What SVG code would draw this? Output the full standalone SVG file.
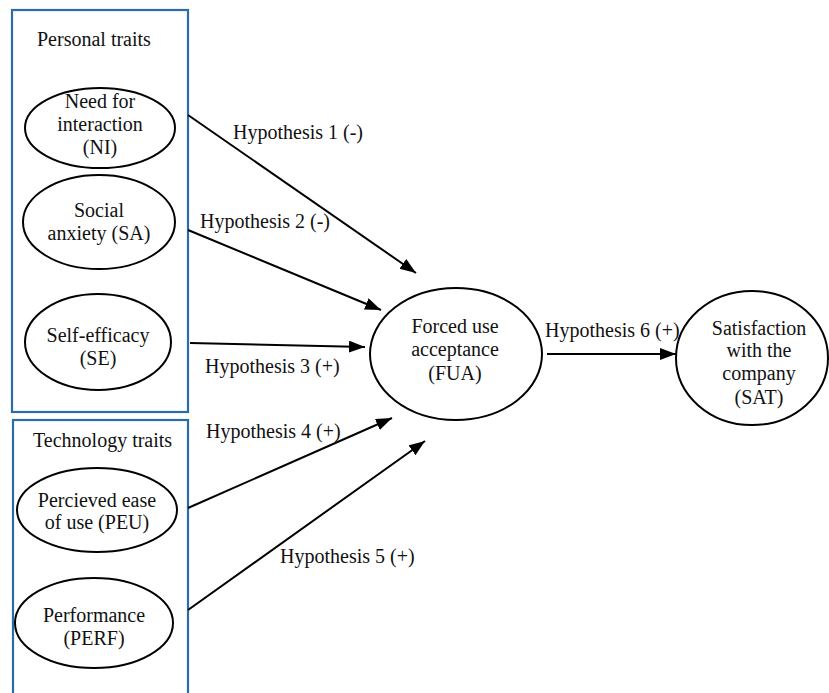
<svg xmlns="http://www.w3.org/2000/svg" width="829" height="693" viewBox="0 0 829 693">
<style>
text{font-family:'Liberation Serif','Times New Roman',serif;font-size:20px;fill:#111}
text.ctr{text-anchor:middle}
.box{fill:none;stroke:#2E6CA8;stroke-width:2.2}
.el{fill:#fff;stroke:#000;stroke-width:2}
.ln{stroke:#000;stroke-width:2;fill:none;marker-end:url(#ah)}
</style>
<defs>
<marker id="ah" markerUnits="userSpaceOnUse" markerWidth="18" markerHeight="14" refX="16" refY="6" orient="auto">
<path d="M0,0 L16,6 L0,12 Z" fill="#000"/>
</marker>
</defs>
<rect width="829" height="693" fill="#fff"/>
<g id="personal-traits">
<rect class="box" x="12" y="10" width="176" height="402"/>
<text x="37" y="46" style="font-family:'Liberation Serif',serif">Personal traits</text>
</g>
<g id="technology-traits">
<rect class="box" x="13" y="420" width="175" height="290"/>
<text x="33" y="447" style="font-family:'Liberation Serif',serif">Technology traits</text>
</g>
<g id="NI">
<ellipse class="el" cx="100" cy="128" rx="75" ry="40"/>
<text class="ctr" x="100" y="108" style="font-family:'Liberation Serif',serif">Need for</text>
<text class="ctr" x="100" y="131" style="font-family:'Liberation Serif',serif">interaction</text>
<text class="ctr" x="100" y="154" style="font-family:'Liberation Serif',serif">(NI)</text>
</g>
<g id="SA">
<ellipse class="el" cx="99" cy="222" rx="76" ry="47"/>
<text class="ctr" x="99" y="217" style="font-family:'Liberation Serif',serif">Social</text>
<text class="ctr" x="99" y="240" style="font-family:'Liberation Serif',serif">anxiety (SA)</text>
</g>
<g id="SE">
<ellipse class="el" cx="98" cy="342" rx="73" ry="48"/>
<text class="ctr" x="98" y="342" style="font-family:'Liberation Serif',serif">Self-efficacy</text>
<text class="ctr" x="98" y="365" style="font-family:'Liberation Serif',serif">(SE)</text>
</g>
<g id="PEU">
<ellipse class="el" cx="97" cy="510" rx="80" ry="42"/>
<text class="ctr" x="97" y="507" style="font-family:'Liberation Serif',serif">Percieved ease</text>
<text class="ctr" x="97" y="529" style="font-family:'Liberation Serif',serif">of use (PEU)</text>
</g>
<g id="PERF">
<ellipse class="el" cx="94" cy="623" rx="79" ry="45"/>
<text class="ctr" x="94" y="622" style="font-family:'Liberation Serif',serif">Performance</text>
<text class="ctr" x="94" y="645" style="font-family:'Liberation Serif',serif">(PERF)</text>
</g>
<g id="FUA">
<ellipse class="el" cx="456" cy="354" rx="86" ry="66"/>
<text class="ctr" x="455" y="333" style="font-family:'Liberation Serif',serif">Forced use</text>
<text class="ctr" x="455" y="356" style="font-family:'Liberation Serif',serif">acceptance</text>
<text class="ctr" x="455" y="380" style="font-family:'Liberation Serif',serif">(FUA)</text>
</g>
<g id="SAT">
<ellipse class="el" cx="752" cy="358" rx="76" ry="67"/>
<text class="ctr" x="759" y="335" style="font-family:'Liberation Serif',serif">Satisfaction</text>
<text class="ctr" x="759" y="357" style="font-family:'Liberation Serif',serif">with the</text>
<text class="ctr" x="759" y="380" style="font-family:'Liberation Serif',serif">company</text>
<text class="ctr" x="759" y="404" style="font-family:'Liberation Serif',serif">(SAT)</text>
</g>
<g id="connectors">
<line class="ln" x1="188" y1="115" x2="416" y2="273"/>
<line class="ln" x1="188" y1="230" x2="381" y2="310"/>
<line class="ln" x1="190" y1="343" x2="365" y2="347"/>
<line class="ln" x1="188" y1="508" x2="392" y2="418"/>
<line class="ln" x1="188" y1="610" x2="425" y2="441"/>
<line class="ln" x1="547" y1="354" x2="676" y2="354"/>
<text x="233" y="139" style="font-family:'Liberation Serif',serif">Hypothesis 1 (-)</text>
<text x="200" y="228" style="font-family:'Liberation Serif',serif">Hypothesis 2 (-)</text>
<text x="205" y="373" style="font-family:'Liberation Serif',serif">Hypothesis 3 (+)</text>
<text x="206" y="438" style="font-family:'Liberation Serif',serif">Hypothesis 4 (+)</text>
<text x="280" y="563" style="font-family:'Liberation Serif',serif">Hypothesis 5 (+)</text>
<text x="545" y="337" style="font-family:'Liberation Serif',serif">Hypothesis 6 (+)</text>
</g>
</svg>
